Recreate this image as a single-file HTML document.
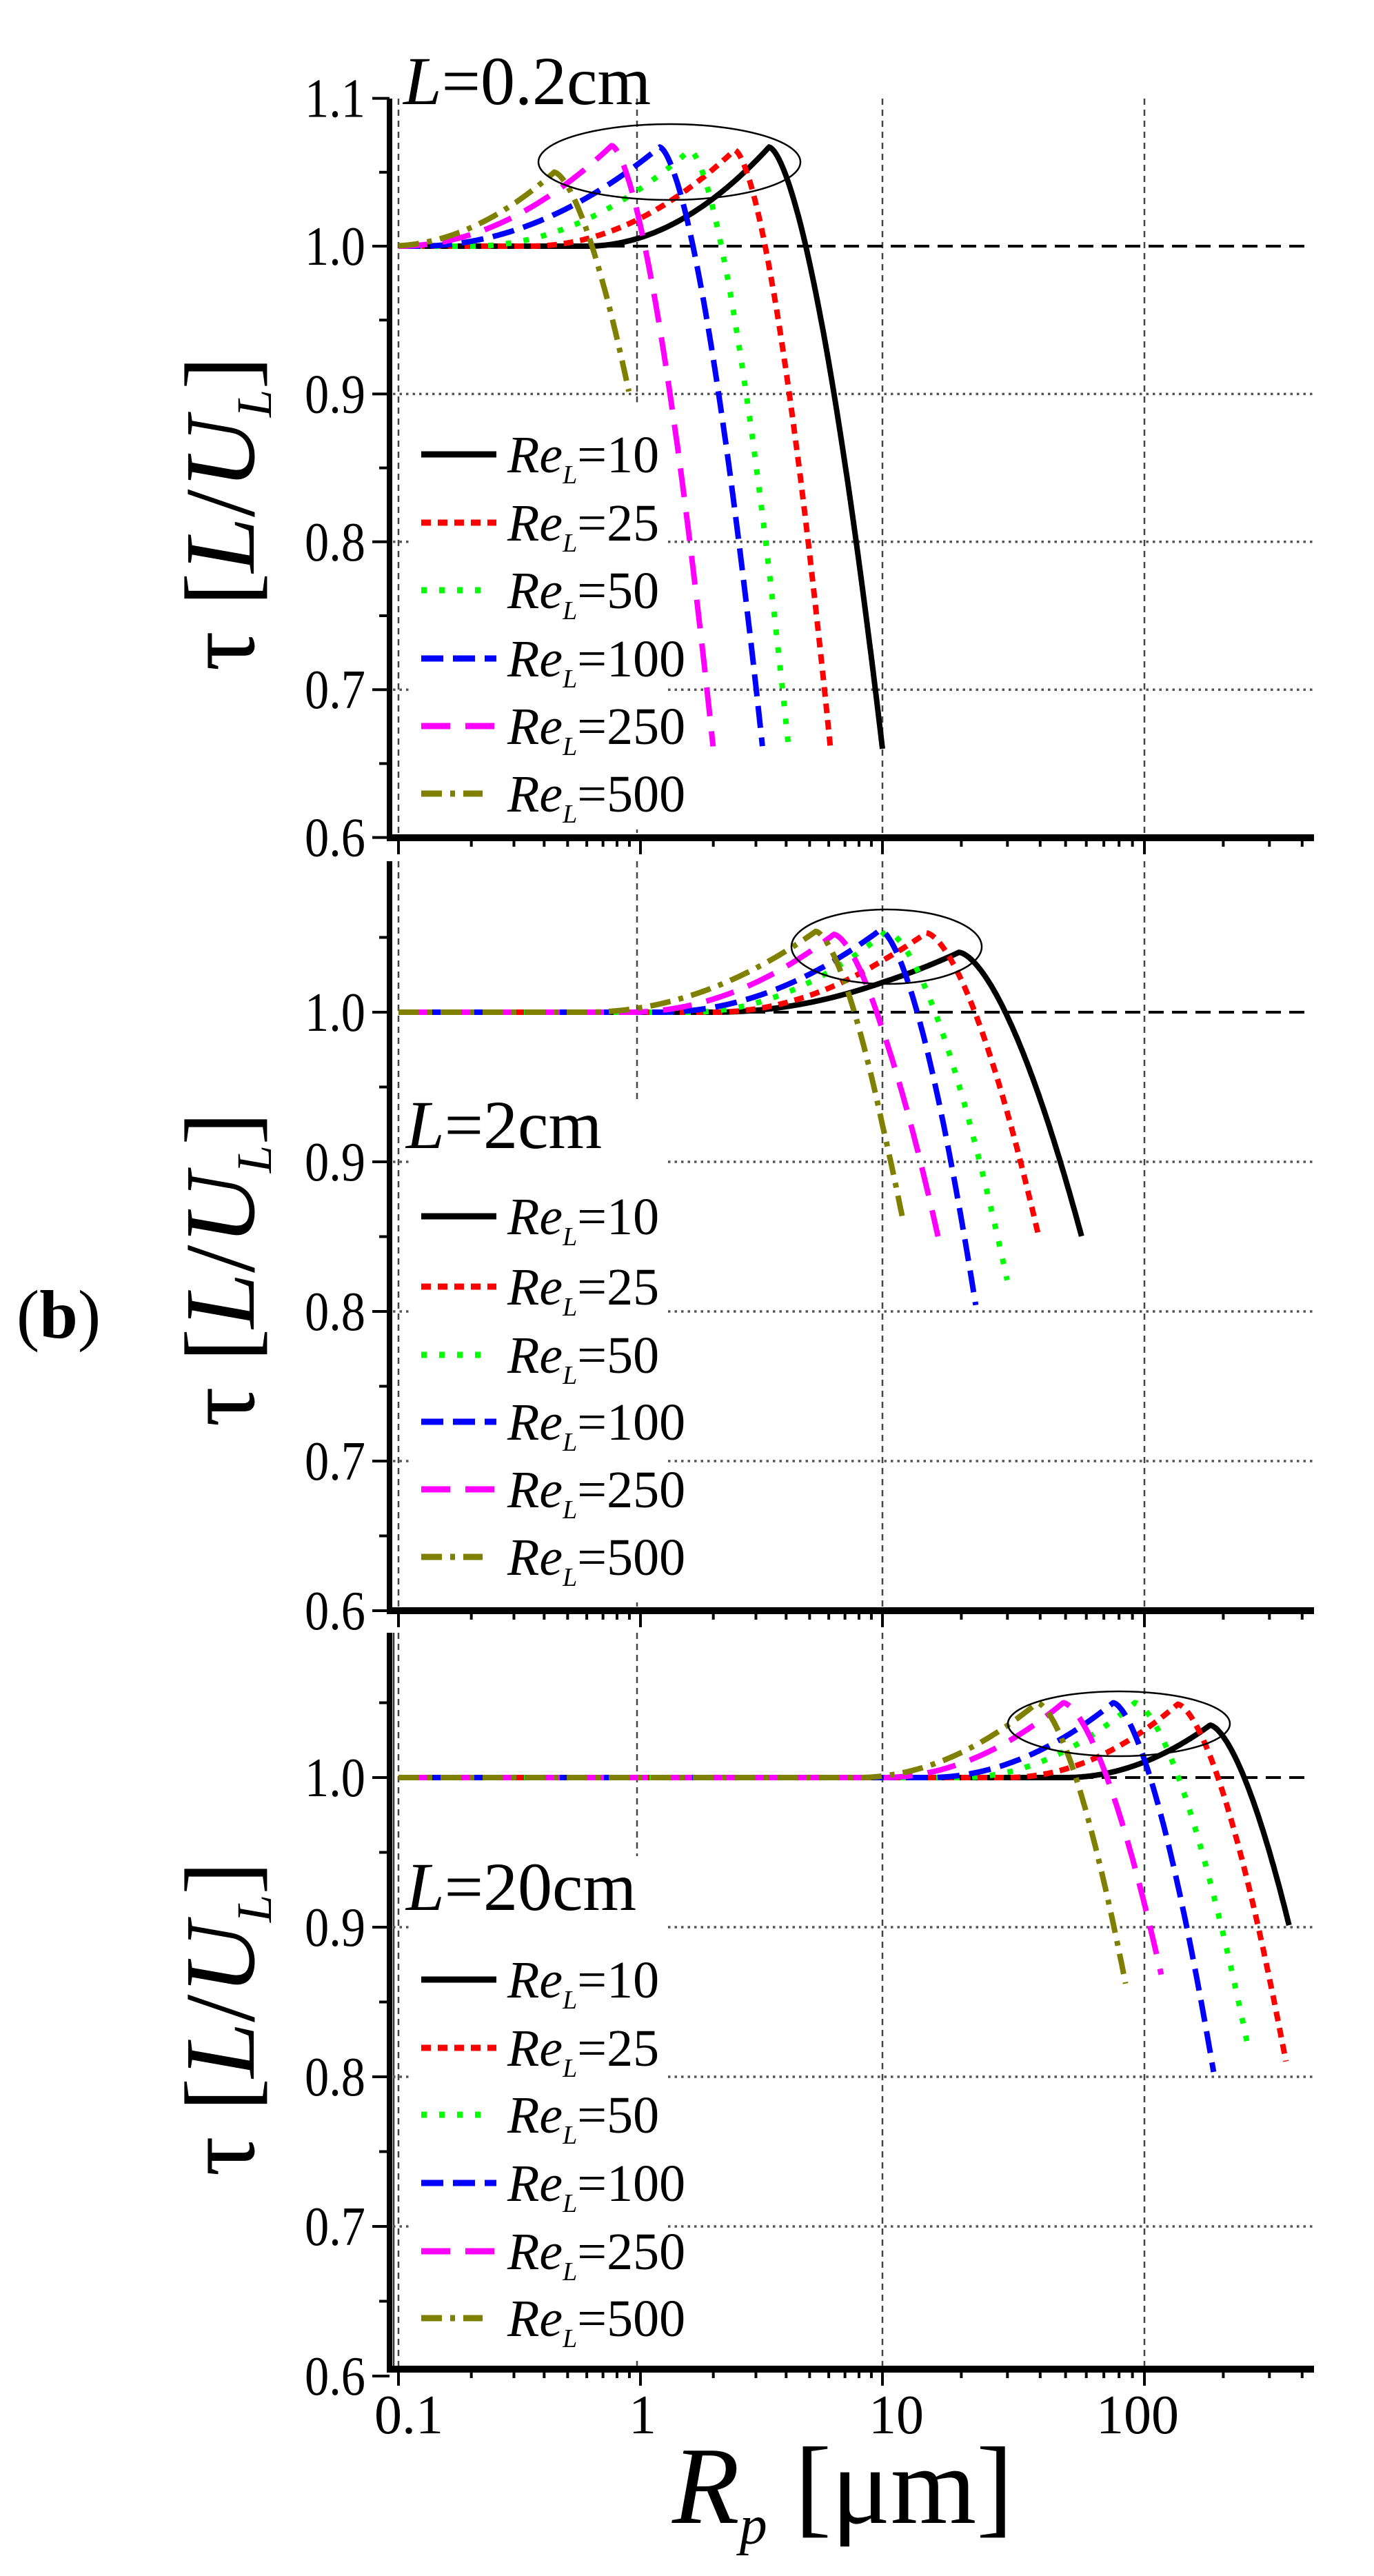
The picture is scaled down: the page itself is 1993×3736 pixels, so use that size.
<!DOCTYPE html>
<html><head><meta charset="utf-8"><style>html,body{margin:0;padding:0;background:#fff}svg{display:block}</style></head>
<body>
<svg id="s" xmlns="http://www.w3.org/2000/svg" width="1993" height="3736" viewBox="0 0 1993 3736" font-family="Liberation Serif, serif"></svg>
<script>
const S=document.getElementById('s');let h='';
const D=[578,924,1280,1660];
function X(v){const u=Math.log10(v);if(u<=1){return 578+(u+1)*351;}return 1280+(u-1)*380;}
const P=[{y1:357,k:2144,top:143,bot:1215},{y1:1468,k:2170,top:1249,bot:2336},{y1:2578,k:2170,top:2368,bot:3436}];
function Y(p,t){return p.y1-(t-1)*p.k;}
const sty=[
{c:'#000',d:''},{c:'#f00',d:'14 10'},{c:'#0f0',d:'8 18'},{c:'#00f',d:'32 14'},{c:'#f0f',d:'42 22'},{c:'#808000',d:'30 12 7 12'}];
const names=['10','25','50','100','250','500'];
const C=[
[[0.6,3.4,1.067,10,0.66],[0.35,2.45,1.065,6.1,0.66],[0.2,1.6,1.065,4.1,0.66],[0.12,1.2,1.067,3.2,0.66],[0.1,0.76,1.068,2.0,0.66],[0.09,0.44,1.05,0.9,0.9]],
[[2,19.6,1.040,57.6,0.85],[2,14.7,1.053,39.5,0.85],[1.6,10.4,1.054,30,0.82],[1.2,9.8,1.055,22.9,0.80],[0.9,6.3,1.052,16.3,0.85],[0.6,5.3,1.054,12.1,0.857]],
[[50,178,1.035,358,0.90],[30,134,1.049,347,0.81],[20,92,1.05,252,0.815],[15,76,1.05,185,0.80],[10,49,1.05,116,0.868],[8,39,1.05,85,0.861]]];
const legY=[[659,758,856,955,1053,1151],[1764,1866,1965,2062,2160,2258],[2871,2970,3067,3166,3265,3362]];
const lab=[['=0.2cm',585,151],['=2cm',589,1665],['=20cm',589,2770]];
const ell=[[971,235,190,55],[1286,1373,138,54],[1623,2500,161,47]];
P.forEach((p,i)=>{
 D.forEach(x=>{h+=`<line x1="${x}" y1="${p.top}" x2="${x}" y2="${p.bot}" stroke="#444" stroke-width="2.5" stroke-dasharray="9 7"/>`;});
 if(i==2)h+=`<line x1="571" y1="${p.top}" x2="571" y2="${p.bot}" stroke="#333" stroke-width="2.5"/>`;
 [0.9,0.8,0.7].forEach(t=>{h+=`<line x1="570" y1="${Y(p,t)}" x2="1904" y2="${Y(p,t)}" stroke="#555" stroke-width="3.5" stroke-dasharray="3.5 6"/>`;});
 const ly0=i==0?Y(p,0.9)+12:(i==1?1595:2700);
 h+=`<rect x="598" y="${ly0}" width="370" height="${p.bot-ly0-12}" fill="#fff"/>`;
 if(i>0)h+=`<rect x="586" y="${lab[i][2]-78}" width="${i==1?305:355}" height="92" fill="#fff"/>`;
 h+=`<line x1="578" y1="${Y(p,1)}" x2="1904" y2="${Y(p,1)}" stroke="#000" stroke-width="4" stroke-dasharray="22 12"/>`;
 C[i].forEach((c,j)=>{const us=Math.log10(c[0]),up=Math.log10(c[1]),ue=Math.log10(c[3]);let pts=[];
  for(let u=-1;u<=ue+1e-9;u+=0.004){let t;
   if(u<us)t=1;else if(u<up){const s=(u-us)/(up-us);t=1+(c[2]-1)*s*s;}
   else{const q=(u-up)/(ue-up);t=c[2]-(c[2]-c[4])*Math.pow(q,1.6);}
   pts.push(X(Math.pow(10,u)).toFixed(1)+','+Y(p,t).toFixed(1));}
  h+=`<polyline points="${pts.join(' ')}" fill="none" stroke="${sty[j].c}" stroke-width="8" ${sty[j].d?`stroke-dasharray="${sty[j].d}"`:''}/>`;
 });
 const e=ell[i];h+=`<ellipse cx="${e[0]}" cy="${e[1]}" rx="${e[2]}" ry="${e[3]}" fill="none" stroke="#000" stroke-width="2.5"/>`;
 legY[i].forEach((y,j)=>{h+=`<line x1="611" y1="${y}" x2="${j==2||j==5?700:720}" y2="${y}" stroke="${sty[j].c}" stroke-width="9" ${sty[j].d?`stroke-dasharray="${sty[j].d}"`:''}/>`;
  h+=`<text x="736" y="${y+26}" font-size="76"><tspan font-style="italic">Re</tspan><tspan font-style="italic" font-size="38" dy="16">L</tspan><tspan dy="-16">=${names[j]}</tspan></text>`;});
 h+=`<text x="${lab[i][1]}" y="${lab[i][2]}" font-size="100"><tspan font-style="italic">L</tspan>${lab[i][0]}</text>`;
 h+=`<line x1="565" y1="${p.top}" x2="565" y2="${p.bot+4}" stroke="#000" stroke-width="8"/>`;
 h+=`<line x1="561" y1="${p.bot}" x2="1906" y2="${p.bot}" stroke="#000" stroke-width="10"/>`;
 for(let t=0.6;t<=1.101;t+=0.05){const y=Y(p,t);if(i>0&&t>1.09)continue;if(y<p.top-2)continue;const maj=Math.abs(t*10-Math.round(t*10))<0.01;
  h+=`<line x1="${maj?540:550}" y1="${y}" x2="565" y2="${y}" stroke="#000" stroke-width="4"/>`;
  if(maj)h+=`<text transform="translate(530,${y+27}) scale(0.88,1)" font-size="80" text-anchor="end">${t.toFixed(1)}</text>`;}
 for(let d=-1;d<=2;d++)for(let m=1;m<=9;m++){const v=m*Math.pow(10,d);if(v<0.1||v>440)continue;const x=X(v);
  h+=`<line x1="${x}" y1="${p.bot}" x2="${x}" y2="${p.bot+(m==1?24:13)}" stroke="#000" stroke-width="4"/>`;}
});
[['0.1',593],['1',932],['10',1300],['100',1650]].forEach(a=>{h+=`<text x="${a[1]}" y="3529" font-size="80" text-anchor="middle">${a[0]}</text>`;});
h+=`<text x="975" y="3659" font-size="160"><tspan font-style="italic">R</tspan><tspan font-style="italic" font-size="80" dy="30">p</tspan><tspan dy="-30"> [μm]</tspan></text>`;
[745,1841,2928].forEach(cy=>{h+=`<text transform="translate(368,${cy}) rotate(-90)" font-size="145" text-anchor="middle">τ [<tspan font-style="italic">L</tspan>/<tspan font-style="italic">U</tspan><tspan font-style="italic" font-size="72" dy="25">L</tspan><tspan dy="-25">]</tspan></text>`;});
h+=`<text x="85" y="1940" font-size="100" text-anchor="middle">(<tspan font-weight="bold">b</tspan>)</text>`;
S.innerHTML=h;
</script>
</body></html>
